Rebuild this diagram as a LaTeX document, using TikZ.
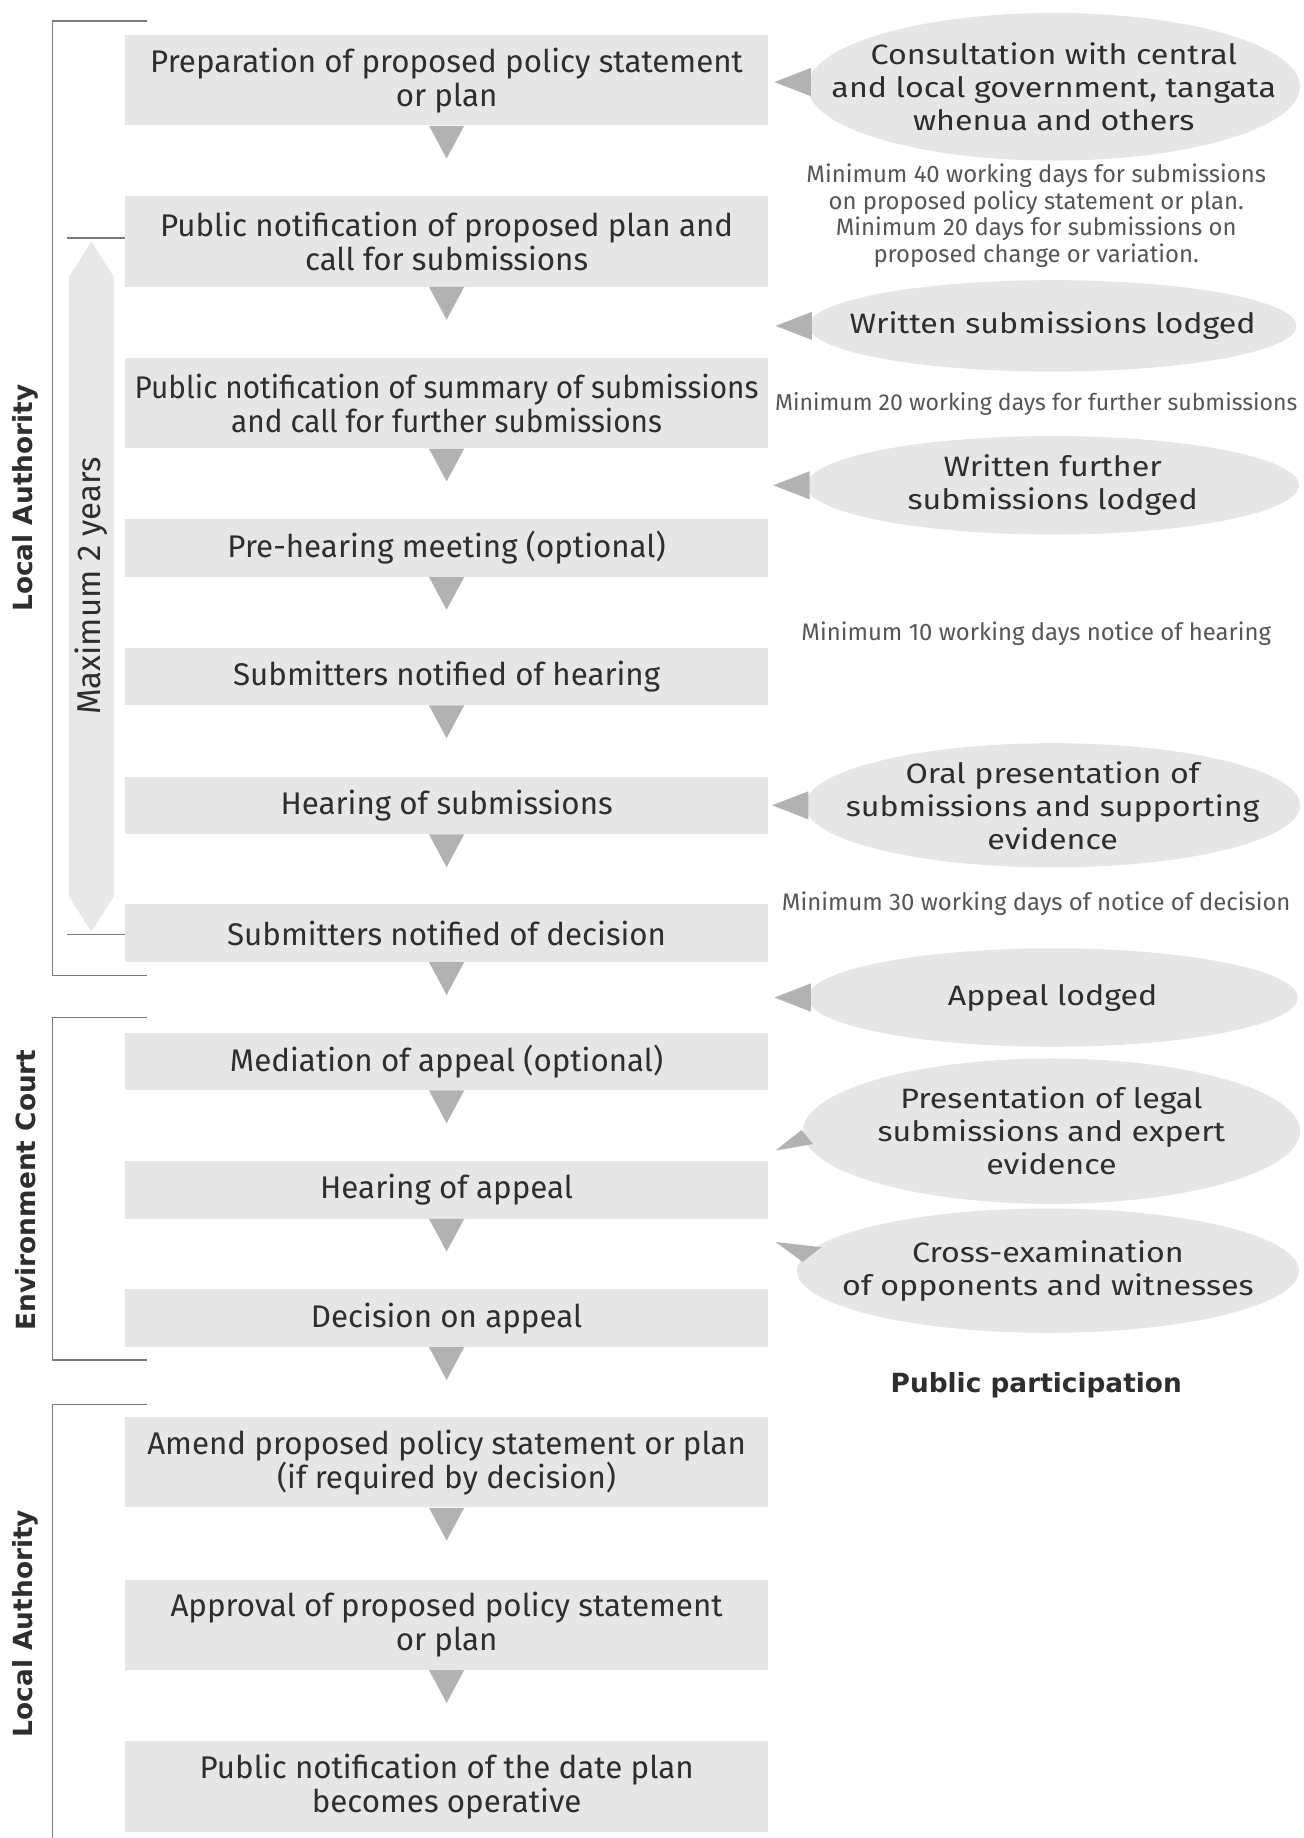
\documentclass[tikz,border=0pt]{standalone}
\usepackage{fontspec}
\setmainfont{Fira Sans}
\newfontfamily\widefont{Fira Sans}[FakeStretch=1.15]
\newfontfamily\narrowfont{Fira Sans}[FakeStretch=0.95]
\newfontfamily\labelfont{DejaVu Sans}
\usetikzlibrary{shapes.geometric}

\definecolor{boxgrey}{HTML}{E6E6E6}
\definecolor{tipgrey}{HTML}{B2B2B2}
\definecolor{linegrey}{HTML}{7A7A7A}
\definecolor{txtgrey}{HTML}{2E2E2E}
\definecolor{notegrey}{HTML}{555555}
\definecolor{arrowlight}{HTML}{E8E8E8}
\definecolor{arrowdark}{HTML}{C4C4C4}

\tikzset{
  stage/.style={fill=boxgrey, minimum width=13.7cm, minimum height=1.925cm,
    align=center, inner sep=0pt, text=txtgrey,
    font=\fontsize{19}{20.5}\selectfont},
  stageone/.style={stage, minimum height=1.225cm},
  flowtip/.style={fill=tipgrey},
  bubble/.style={ellipse, fill=boxgrey, inner sep=0pt},
  bubbletext/.style={align=center, inner sep=0pt, text=txtgrey,
    font=\widefont\fontsize{17}{20}\selectfont},
  remark/.style={align=center, inner sep=0pt, text=notegrey,
    font=\fontsize{14.5}{16.2}\selectfont},
  bracket/.style={draw=linegrey, line width=0.9pt},
  sidelabel/.style={rotate=90, inner sep=0pt, text=txtgrey,
    font=\labelfont\bfseries\fontsize{16}{18}\selectfont}
}

\begin{document}
\begin{tikzpicture}[x=0.025cm, y=-0.025cm]
  \useasboundingbox (0,0) rectangle (1112,1568);

  % Process boxes
  \node[stage] (prep) at (381,68.5) {Preparation of proposed policy statement\\or plan};
  \node[stage] (notif) at (381,206) {Public notification of proposed plan and\\call for submissions};
  \node[stage, font=\narrowfont\fontsize{19}{20.5}\selectfont] (summ) at (381,344) {Public notification of summary of submissions\\and call for further submissions};
  \node[stageone] (prehear) at (381,467.5) {Pre-hearing meeting (optional)};
  \node[stageone] (nothear) at (381,577) {Submitters notified of hearing};
  \node[stageone] (hear) at (381,687) {Hearing of submissions};
  \node[stageone] (notdec) at (381,796) {Submitters notified of decision};
  \node[stageone] (mediate) at (381,905.5) {Mediation of appeal (optional)};
  \node[stageone] (hearapp) at (381,1015) {Hearing of appeal};
  \node[stageone] (decapp) at (381,1124.5) {Decision on appeal};
  \node[stage] (amend) at (381,1247.5) {Amend proposed policy statement or plan\\(if required by decision)};
  \node[stage] (approve) at (381,1386) {Approval of proposed policy statement\\or plan};
  \node[stage] (operative) at (381,1524) {Public notification of the date plan\\becomes operative};

  % Flow triangles
  \foreach \a in {prep,notif,summ,prehear,nothear,hear,notdec,mediate,hearapp,decapp,amend,approve}
    \fill[flowtip] (\a.south) ++(-15,0) -- ++(30,0) -- ++(-15,28) -- cycle;

  % Public participation
  \node[bubble, minimum width=10.5cm, minimum height=3.15cm] (consult) at (899,74) {};
  \node[bubbletext] at (consult) {Consultation with central\\and local government, tangata\\whenua and others};
  \node[bubble, minimum width=10.4cm, minimum height=1.95cm] (written) at (898,278) {};
  \node[bubbletext] at (written) {Written submissions lodged};
  \node[bubble, minimum width=10.5cm, minimum height=2.1cm] (further) at (898,414) {};
  \node[bubbletext] at (further) {Written further\\submissions lodged};
  \node[bubble, minimum width=10.55cm, minimum height=2.65cm] (oral) at (898,687) {};
  \node[bubbletext] at (oral) {Oral presentation of\\submissions and supporting\\evidence};
  \node[bubble, minimum width=10.45cm, minimum height=2.1cm] (appeal) at (898,851) {};
  \node[bubbletext] at (appeal) {Appeal lodged};
  \node[bubble, minimum width=10.6cm, minimum height=3.1cm] (legal) at (897,965) {};
  \node[bubbletext] at (legal) {Presentation of legal\\submissions and expert\\evidence};
  \node[bubble, minimum width=10.7cm, minimum height=2.65cm] (cross) at (894,1084) {};
  \node[bubbletext] at (cross) {Cross-examination\\of opponents and witnesses};

  % Pointers
  \foreach \a in {written,further,oral,appeal}
    \fill[flowtip] (\a.west) ++(3,-12) -- ++(-31,12) -- ++(31,12) -- cycle;
  \fill[flowtip] (consult.west) ++(3,-16) -- ++(-31,12) -- ++(31,12) -- cycle;
  \fill[flowtip] (legal.west) ++(-1,-1) -- ++(-22,17.5) -- ++(32,-5.5) -- cycle;
  \fill[flowtip] (cross.west) ++(21,-20) -- ++(-39,-4.5) -- ++(23,17) -- cycle;

  % Time limits
  \node[remark] (days40) at (884,184) {Minimum 40 working days for submissions\\on proposed policy statement or plan.\\Minimum 20 days for submissions on\\proposed change or variation.};
  \node[remark, font=\fontsize{14}{16}\selectfont] (days20) at (884,345) {Minimum 20 working days for further submissions};
  \node[remark] (days10) at (884,541) {Minimum 10 working days notice of hearing};
  \node[remark] (days30) at (884,771) {Minimum 30 working days of notice of decision};
  \node[sidelabel, rotate=-90] (public) at (884,1182) {Public participation};

  % Brackets
  \begin{scope}[bracket]
    \draw (125,18) -- (45,18) -- (45,832) -- (125,832);
    \draw (125,868) -- (45,868) -- (45,1160) -- (125,1160);
    \draw (125,1198) -- (45,1198) -- (45,1568);
    \draw (57,203) -- (prep.west |- 0,203);
    \draw (57,797) -- (notdec.west |- 0,797);
  \end{scope}
  \node[sidelabel] (local) at (22,425) {Local Authority};
  \node[sidelabel] (court) at (22,1015) {Environment Court};
  \node[sidelabel] (localb) at (22,1385) {Local Authority};

  % Maximum 2 years
  \shade[top color=arrowlight, middle color=arrowdark, bottom color=arrowlight]
    (78,206) -- (97,236) -- (97,765) -- (78,795) -- (59,765) -- (59,236) -- cycle;
  \node[rotate=90, text=txtgrey, font=\fontsize{20}{22}\selectfont] (maxtime) at (78,500) {Maximum 2 years};
\end{tikzpicture}
\end{document}
